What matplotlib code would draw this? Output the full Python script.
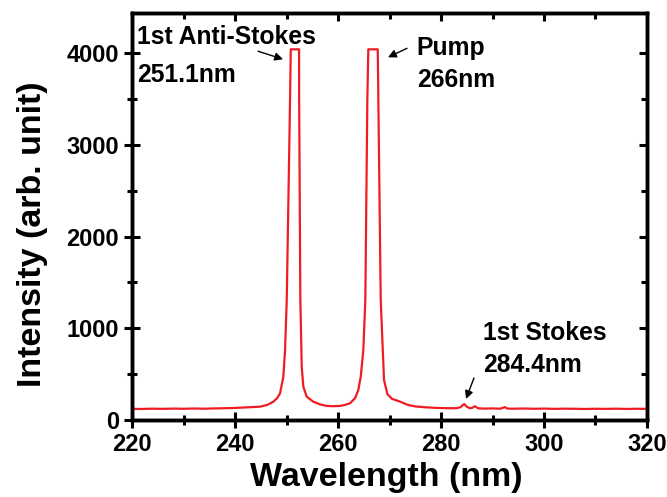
#Import packages
import numpy as np
import matplotlib
matplotlib.use('Agg')
import matplotlib.pyplot as plt
from matplotlib.ticker import MultipleLocator

#Spectrum (wavelength in nm, intensity in arb. unit)
wavelength = [220, 222, 224, 226, 228, 230, 232, 234, 236, 238, 240, 240.97,
              242.5, 244.85, 246.3, 247.44, 248.2, 248.74, 249.38, 249.71, 250.04,
              250.68, 250.82, 252.43, 252.45, 252.68, 252.95, 253.26, 253.92,
              255.2, 256.5, 257.81, 259.0, 260.39, 261.4, 262.33, 263.3, 263.94,
              264.41, 264.91, 265.3, 265.69, 265.88, 267.71, 267.83, 268.29,
              268.93, 269.6, 270.5, 272.04, 273.5, 275, 277, 279, 281, 283,
              283.8, 284.5, 285.0, 285.6, 286.1, 286.6, 287.2, 288.5, 290, 291.5,
              292.4, 292.9, 294, 296, 298, 300, 302, 304, 306, 308, 310, 312,
              314, 316, 318, 320]
intensity = [121, 120, 123, 121, 124, 122, 125, 123, 126, 128, 131, 134,
             138, 145, 165, 199, 240, 291, 472, 763, 1308,
             3488, 4043, 4043, 3488, 1308, 581, 363, 254,
             199, 170, 153, 150, 153, 165, 182, 237, 327,
             472, 763, 1308, 3488, 4043, 4043, 3488, 1308,
             436, 280, 230, 200, 165, 148, 138, 132, 129, 128,
             140, 174, 145, 128, 133, 150, 127, 124, 126, 123,
             140, 124, 123, 125, 122, 124, 121, 123, 122, 120, 122, 121,
             123, 120, 122, 121]

x_ticks = [220, 240, 260, 280, 300, 320]
y_ticks = [0, 1000, 2000, 3000, 4000]

plt.rcParams['font.family'] = ['Liberation Sans', 'DejaVu Sans']
plt.rcParams['font.weight'] = 'bold'

fig = plt.figure(figsize=(6.67, 4.97), dpi=100)
ax = fig.add_axes([0.198, 0.155, 0.772, 0.819])

ax.plot(wavelength, intensity, color='#f01c24', linewidth=1.6, zorder=3)

ax.set_xlim(220, 320)
ax.set_ylim(0, 4440)
ax.set_xticks(x_ticks)
ax.set_yticks(y_ticks)
ax.xaxis.set_minor_locator(MultipleLocator(10))
ax.yaxis.set_minor_locator(MultipleLocator(500))

for spine in ax.spines.values():
    spine.set_linewidth(2.4)

# bottom / left ticks cross the spine
ax.tick_params(which='major', direction='inout', length=11, width=2.2, color='black',
               labelsize=17, pad=4)
ax.tick_params(which='minor', direction='inout', length=7, width=2.2, color='black')
for lab in ax.get_xticklabels() + ax.get_yticklabels():
    lab.set_fontweight('bold')

#Inward ticks on top and right through twin axes
ax_top = ax.twiny()
ax_top.set_xlim(ax.get_xlim())
ax_top.set_xticks(x_ticks)
ax_top.xaxis.set_minor_locator(MultipleLocator(10))
ax_top.tick_params(which='major', direction='in', length=6, width=2.2, labeltop=False)
ax_top.tick_params(which='minor', direction='in', length=4, width=2.2)
ax_right = ax.twinx()
ax_right.set_ylim(ax.get_ylim())
ax_right.set_yticks(y_ticks)
ax_right.yaxis.set_minor_locator(MultipleLocator(500))
ax_right.tick_params(which='major', direction='in', length=6, width=2.2, labelright=False)
ax_right.tick_params(which='minor', direction='in', length=4, width=2.2)
for a in (ax_top, ax_right):
    for spine in a.spines.values():
        spine.set_linewidth(2.4)

ax.set_xlabel('Wavelength (nm)', fontsize=24.5, fontweight='bold')
ax.set_ylabel('Intensity (arb. unit)', fontsize=24.5, fontweight='bold')
ax.xaxis.set_label_coords(0.493, -0.103)
ax.yaxis.set_label_coords(-0.163, 0.457)

#Peak labels and arrows
arrow = dict(arrowstyle='-|>', color='black', lw=1.0, mutation_scale=12, shrinkA=0, shrinkB=0)
ax.text(220.97, 4174, '1st Anti-Stokes', fontsize=17.8, fontweight='bold', va='center', ha='left')
ax.text(220.97, 3760, '251.1nm', fontsize=17.8, fontweight='bold', va='center', ha='left')
ax.annotate('', xy=(249.32, 3935), xytext=(244.47, 4022), arrowprops=arrow)

ax.text(275.3, 4054, 'Pump', fontsize=17.8, fontweight='bold', va='center', ha='left')
ax.text(275.3, 3706, '266nm', fontsize=17.8, fontweight='bold', va='center', ha='left')
ax.annotate('', xy=(269.7, 3956), xytext=(273.4, 4054), arrowprops=arrow)

ax.text(288.2, 948, '1st Stokes', fontsize=17.8, fontweight='bold', va='center', ha='left')
ax.text(288.2, 599, '284.4nm', fontsize=17.8, fontweight='bold', va='center', ha='left')
ax.annotate('', xy=(284.85, 229), xytext=(286.4, 458), arrowprops=arrow)

fig.savefig('out.png', dpi=100)
